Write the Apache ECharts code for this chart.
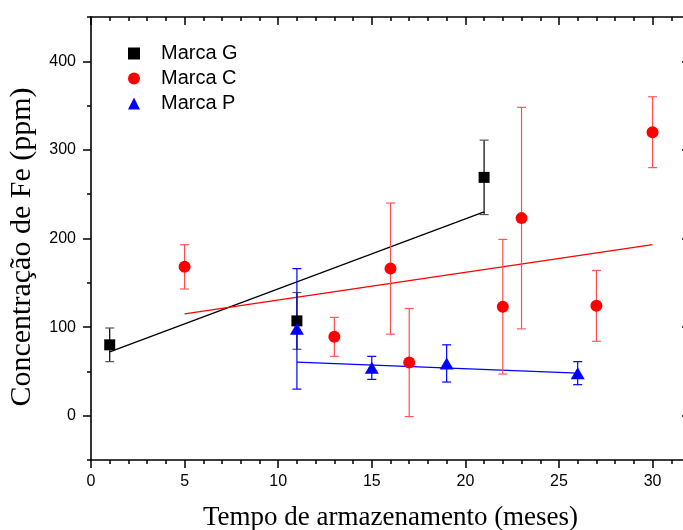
<!DOCTYPE html>
<html>
<head>
<meta charset="utf-8">
<script src="https://cdn.jsdelivr.net/npm/echarts@6/dist/echarts.min.js"></script>
<style>html,body{margin:0;padding:0;background:#fff}#c{width:683px;height:530px}</style>
</head>
<body>
<div id="c"></div>
<script>
// ---- data ----
const gX = [1, 11, 21];
const gY = [80, 107, 269];
const gErr = [19, 32, 42];

const cX = [5, 13, 16, 17, 22, 23, 27, 30];
const cY = [168, 89, 166, 60, 123, 223, 124, 320];
const cErr = [25, 22, 74, 61, 76, 125, 40, 40];

const pX = [11, 15, 19, 26];
const pY = [98, 54, 59, 48];
const pErr = [68, 13, 21, 13];

// linear fit end points
const gFit = [[1, 72], [21, 230]];
const cFit = [[5, 115], [30, 193]];
const pFit = [[11, 60.5], [26, 48]];

const xMajor = [0, 5, 10, 15, 20, 25, 30];
const yMajor = [0, 100, 200, 300, 400];

const sans = 'Liberation Sans, Arial, sans-serif';
const serif = 'Liberation Serif, Times New Roman, serif';

function pts(xs, ys) { return xs.map((x, i) => [x, ys[i]]); }
function errs(xs, ys, es) { return xs.map((x, i) => [x, ys[i] - es[i], ys[i] + es[i]]); }

function errSeries(name, data, color, capColor) {
  return {
    type: 'custom', name: name + ' err', data: data, silent: true,
    xAxisIndex: 0, yAxisIndex: 0,
    renderItem: function (params, api) {
      const x = api.value(0), lo = api.value(1), hi = api.value(2);
      const a = api.coord([x, lo]), b = api.coord([x, hi]);
      const hw = 4.5;
      return {
        type: 'group', children: [
          { type: 'line', shape: { x1: a[0], y1: a[1], x2: b[0], y2: b[1] }, style: { stroke: color, lineWidth: 1.2 } },
          { type: 'line', shape: { x1: a[0] - hw, y1: a[1], x2: a[0] + hw, y2: a[1] }, style: { stroke: capColor, lineWidth: 1.2 } },
          { type: 'line', shape: { x1: b[0] - hw, y1: b[1], x2: b[0] + hw, y2: b[1] }, style: { stroke: capColor, lineWidth: 1.2 } }
        ]
      };
    },
    z: 2
  };
}

function fitSeries(data, color) {
  return {
    type: 'line', data: data, symbol: 'none', silent: true,
    lineStyle: { color: color, width: 1.3 }, z: 1, legendHoverLink: false
  };
}

const axisLine = { show: true, onZero: false, lineStyle: { color: '#000', width: 1.6 } };
const noLine = { show: false, onZero: false };

const chart = echarts.init(document.getElementById('c'));
chart.setOption({
  animation: false,
  backgroundColor: '#fff',
  grid: { left: 91, right: -7, top: 17, bottom: 70, containLabel: false, outerBoundsMode: 'none' },
  legend: {
    orient: 'vertical', left: 123, top: 36,
    itemWidth: 12, itemHeight: 12, itemGap: 0,
    textStyle: { fontFamily: sans, fontSize: 20, color: '#000', lineHeight: 25, padding: [0, 0, 0, 16] },
    data: [
      { name: 'Marca G', icon: 'rect' },
      { name: 'Marca C', icon: 'circle' },
      { name: 'Marca P', icon: 'triangle' }
    ],
    selectedMode: false
  },
  graphic: [{
    type: 'text', x: 22, y: 247, rotation: Math.PI / 2,
    style: { text: 'Concentração de Fe (ppm)', font: '30px ' + serif, fill: '#000', align: 'center', verticalAlign: 'middle' }
  }],
  xAxis: [
    {
      type: 'value', position: 'bottom', min: 0, max: 32, interval: 5,
      axisLine: axisLine, splitLine: { show: false },
      axisTick: { show: true, inside: false, length: 8, customValues: xMajor, lineStyle: { color: '#000', width: 1.5 } },
      axisLabel: { margin: 14, fontFamily: sans, fontSize: 16, color: '#000', customValues: xMajor },
      name: 'Tempo de armazenamento (meses)', nameLocation: 'middle', nameGap: 44,
      nameTextStyle: { fontFamily: serif, fontSize: 27, color: '#000' }
    },
    {
      type: 'value', position: 'bottom', min: 0, max: 32, interval: 1,
      axisLine: noLine, splitLine: { show: false }, axisLabel: { show: false },
      axisTick: { show: true, inside: false, length: 4, lineStyle: { color: '#000', width: 1.5 } }
    },
    {
      type: 'value', position: 'top', min: 0, max: 32, interval: 5,
      axisLine: axisLine, splitLine: { show: false }, axisLabel: { show: false },
      axisTick: { show: true, inside: true, length: 8, customValues: xMajor, lineStyle: { color: '#000', width: 1.5 } }
    },
    {
      type: 'value', position: 'top', min: 0, max: 32, interval: 1,
      axisLine: noLine, splitLine: { show: false }, axisLabel: { show: false },
      axisTick: { show: true, inside: true, length: 4, lineStyle: { color: '#000', width: 1.5 } }
    }
  ],
  yAxis: [
    {
      type: 'value', position: 'left', min: -50, max: 450,
      axisLine: axisLine, splitLine: { show: false },
      axisTick: { show: true, inside: false, length: 8, customValues: yMajor, lineStyle: { color: '#000', width: 1.5 } },
      axisLabel: { margin: 15, fontFamily: sans, fontSize: 16, color: '#000', customValues: yMajor }
    },
    {
      type: 'value', position: 'left', min: -50, max: 450, interval: 50,
      axisLine: noLine, splitLine: { show: false }, axisLabel: { show: false },
      axisTick: { show: true, inside: false, length: 4, lineStyle: { color: '#000', width: 1.5 } }
    },
    {
      type: 'value', position: 'right', min: -50, max: 450,
      axisLine: axisLine, splitLine: { show: false }, axisLabel: { show: false },
      axisTick: { show: true, inside: true, length: 8, customValues: yMajor, lineStyle: { color: '#000', width: 1.5 } }
    },
    {
      type: 'value', position: 'right', min: -50, max: 450, interval: 50,
      axisLine: noLine, splitLine: { show: false }, axisLabel: { show: false },
      axisTick: { show: true, inside: true, length: 4, lineStyle: { color: '#000', width: 1.5 } }
    }
  ],
  series: [
    fitSeries(gFit, '#000'),
    fitSeries(cFit, '#ff0000'),
    fitSeries(pFit, '#0000ff'),
    errSeries('Marca G', errs(gX, gY, gErr), '#000', '#555'),
    errSeries('Marca C', errs(cX, cY, cErr), '#ff4d4d', '#ff5a5a'),
    errSeries('Marca P', errs(pX, pY, pErr), '#0000ff', '#0000ff'),
    { type: 'scatter', name: 'Marca G', data: pts(gX, gY), symbol: 'rect', symbolSize: 11, itemStyle: { color: '#000', opacity: 1 }, z: 3 },
    { type: 'scatter', name: 'Marca C', data: pts(cX, cY), symbol: 'circle', symbolSize: 12, itemStyle: { color: '#ff0000', opacity: 1 }, z: 3 },
    { type: 'scatter', name: 'Marca P', data: pts(pX, pY), symbol: 'triangle', symbolSize: [14, 12], itemStyle: { color: '#0000ff', opacity: 1 }, z: 4 }
  ]
});
</script>
</body>
</html>
